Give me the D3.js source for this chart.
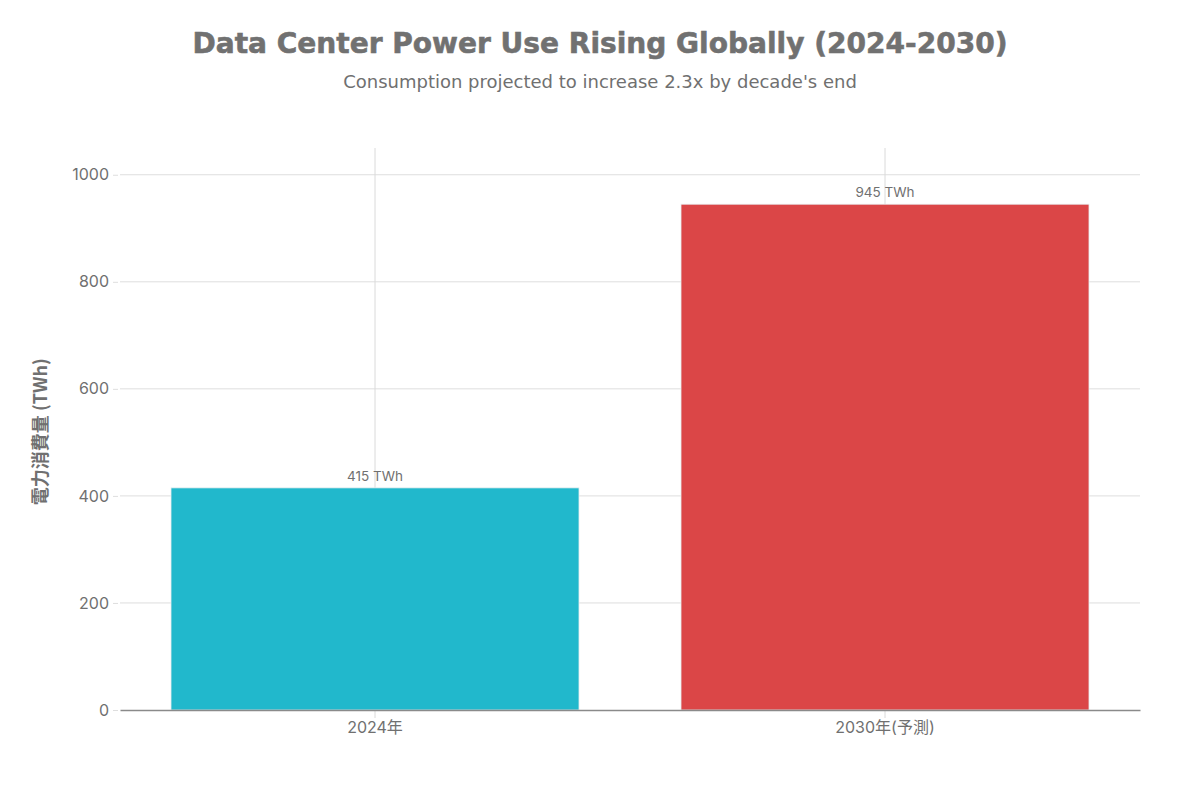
<!DOCTYPE html>
<html>
<head>
<meta charset="utf-8">
<script src="https://cdn.jsdelivr.net/npm/d3@7"></script>
<style>
  body { margin: 0; background: #fff; }
  text { fill: #707070; }
</style>
</head>
<body>
<div id="chart"></div>
<script>
// chart data
const categories = ["2024年", "2030年(予測)"];
const values = [415, 945];
const valueLabels = ["415 TWh", "945 TWh"];
const barColors = ["#21b8cc", "#db4647"];
const yTicks = [0, 200, 400, 600, 800, 1000];

const width = 1200, height = 800;
const margin = { top: 148, right: 60, bottom: 90, left: 120 };
const innerW = width - margin.left - margin.right;
const innerH = height - margin.top - margin.bottom;

const svg = d3.select("#chart").append("svg")
  .attr("width", width)
  .attr("height", height);

const uiFont = "Inter, 'Noto Sans CJK JP', sans-serif";

// title + subtitle
const title = svg.append("text")
  .attr("x", 600).attr("y", 53)
  .attr("text-anchor", "middle")
  .style("font-family", "'DejaVu Sans', sans-serif")
  .style("font-weight", "bold")
  .style("font-size", "29px")
  .style("fill", "#717171")
  .style("stroke", "#717171")
  .style("stroke-width", 0.6)
  .text("Data Center Power Use Rising Globally (2024-2030)");
// squeeze title to reference width
const tw = title.node().getComputedTextLength();
if (tw > 815) title.attr("textLength", 815).attr("lengthAdjust", "spacingAndGlyphs");

svg.append("text")
  .attr("x", 600).attr("y", 88)
  .attr("text-anchor", "middle")
  .style("font-family", "'DejaVu Sans', sans-serif")
  .style("font-size", "18px")
  .text("Consumption projected to increase 2.3x by decade's end");

const g = svg.append("g").attr("transform", `translate(${margin.left},${margin.top})`);

const x = d3.scaleBand()
  .domain(categories)
  .range([0, innerW])
  .paddingInner(0.2)
  .paddingOuter(0.1);

const y = d3.scaleLinear().domain([0, 1050]).range([innerH, 0]);

// horizontal gridlines
g.selectAll(".hgrid")
  .data(yTicks.filter(d => d > 0))
  .enter().append("line")
  .attr("x1", 0).attr("x2", innerW)
  .attr("y1", d => y(d)).attr("y2", d => y(d))
  .attr("stroke", "#dedede").attr("stroke-width", 1);

// vertical gridlines at category centres
g.selectAll(".vgrid")
  .data(categories)
  .enter().append("line")
  .attr("x1", d => x(d) + x.bandwidth() / 2)
  .attr("x2", d => x(d) + x.bandwidth() / 2)
  .attr("y1", 0).attr("y2", innerH + 8)
  .attr("stroke", "#dadada").attr("stroke-width", 1);

// bars
g.selectAll(".bar")
  .data(values)
  .enter().append("rect")
  .attr("x", (d, i) => x(categories[i]))
  .attr("y", d => y(d))
  .attr("width", x.bandwidth())
  .attr("height", d => innerH - y(d))
  .attr("fill", (d, i) => barColors[i])
  .attr("stroke", "#e8eef0")
  .attr("stroke-width", 0.8);

// value labels
g.selectAll(".vlabel")
  .data(values)
  .enter().append("text")
  .attr("x", (d, i) => x(categories[i]) + x.bandwidth() / 2)
  .attr("y", d => y(d) - 7)
  .attr("text-anchor", "middle")
  .style("font-family", uiFont)
  .style("font-size", "13.5px")
  .text((d, i) => valueLabels[i]);

// y axis
const yAxis = g.append("g")
  .call(d3.axisLeft(y).tickValues(yTicks).tickSize(5).tickPadding(6).tickFormat(d3.format("d")));
yAxis.select(".domain").remove();
yAxis.selectAll(".tick line").attr("stroke", "#dedede").attr("transform", "translate(-2,0)");
yAxis.selectAll(".tick text")
  .style("font-family", uiFont)
  .style("font-size", "16px")
  .style("fill", "#707070");

// x axis
const xAxis = g.append("g")
  .attr("transform", `translate(0,${innerH})`)
  .call(d3.axisBottom(x).tickSize(0).tickPadding(12));
xAxis.select(".domain").attr("stroke", "#8a8a8a").attr("stroke-width", 1.6);
xAxis.selectAll(".tick text")
  .style("font-family", uiFont)
  .style("font-size", "16px")
  .style("fill", "#707070");

// y axis title
svg.append("text")
  .attr("transform", `translate(47,${margin.top + y(520)}) rotate(-90)`)
  .attr("text-anchor", "middle")
  .style("font-family", "'Noto Sans CJK JP', sans-serif")
  .style("font-size", "18px")
  .style("font-weight", "bold")
  .text("電力消費量 (TWh)");
</script>
</body>
</html>
